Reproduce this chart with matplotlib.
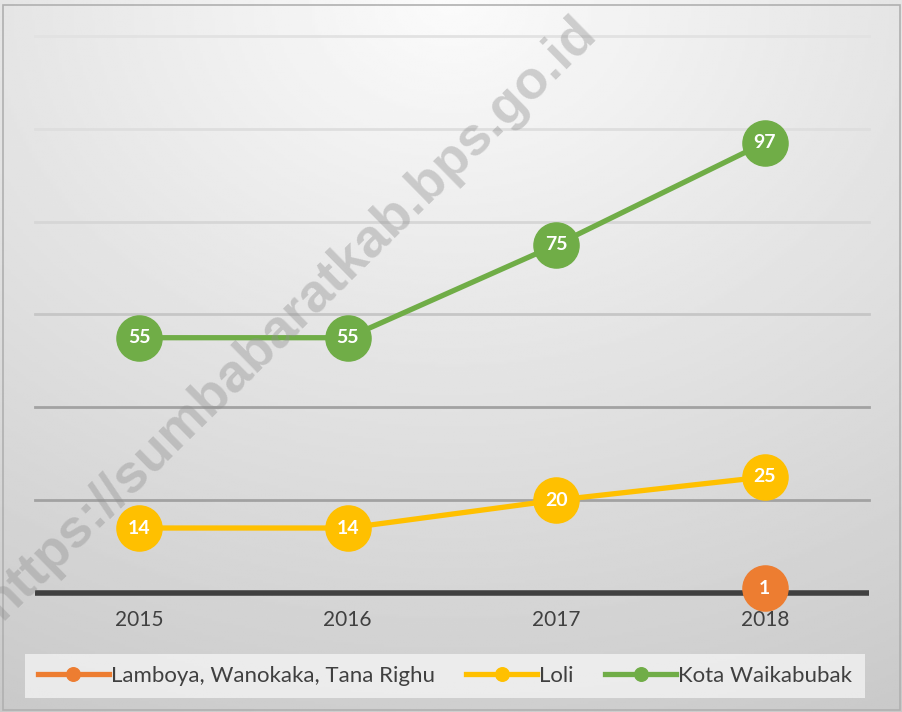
import numpy as np
import matplotlib.pyplot as plt
from matplotlib.patches import Rectangle

years = ['2015', '2016', '2017', '2018']
lamboya = [np.nan, np.nan, np.nan, 1]
loli = [14, 14, 20, 25]
kota = [55, 55, 75, 97]

series = [
    ('Lamboya, Wanokaka, Tana Righu', lamboya, '#ED7D31'),
    ('Loli', loli, '#FFC000'),
    ('Kota Waikabubak', kota, '#70AD47'),
]

grid_levels = [20, 40, 60, 80, 100, 120]
grid_colors = ['#a2a2a2', '#a2a2a2', '#c6c6c6', '#d6d6d6', '#dedede', '#e2e2e2']

plt.rcParams['font.family'] = ['Lato', 'DejaVu Sans']

fig = plt.figure(figsize=(9.03, 7.12), dpi=100)

# background gradient (light at top centre, grey at bottom)
bg = fig.add_axes([0, 0, 1, 1], zorder=-10)
xx, yy = np.meshgrid(np.linspace(0, 1, 300), np.linspace(0, 1, 300))
r = np.sqrt(((xx - 0.5) * 1.0) ** 2 + yy ** 2)
val = (251 - 50 * r / r.max()) / 255
bg.imshow(val, cmap='gray', vmin=0, vmax=1, extent=[0, 1, 0, 1],
          aspect='auto', origin='upper')
bg.axis('off')
fig.patches.append(Rectangle((0.003, 0.003), 0.994, 0.99, transform=fig.transFigure,
                             fill=False, edgecolor='#b0b0b0', lw=1.2))

ax = fig.add_axes([35 / 903, 1 - 593 / 712, (869 - 35) / 903, (593 - 36) / 712])
ax.patch.set_alpha(0)
x = np.arange(len(years))

for lvl, c in zip(grid_levels, grid_colors):
    ax.axhline(lvl, color=c, lw=2, zorder=1, clip_on=False)

for name, vals, color in series:
    ax.plot(x, vals, color=color, lw=3.8, marker='o', markersize=32.5,
            label=name, zorder=3, clip_on=False)
    for xi, v in zip(x, vals):
        if not np.isnan(v):
            ax.text(xi, v, f'{v:g}', ha='center', va='center', color='white',
                    fontsize=14, fontweight='bold', zorder=4)

ax.set_xlim(-0.5, 3.5)
ax.set_ylim(0, 120)
ax.set_yticks([])
ax.set_xticks(x)
ax.set_xticklabels(years, fontsize=15, color='#404040')
ax.tick_params(axis='x', length=0, pad=12)
for s in ['top', 'right', 'left']:
    ax.spines[s].set_visible(False)
ax.spines['bottom'].set_color('#404040')
ax.spines['bottom'].set_linewidth(4)
ax.spines['bottom'].set_capstyle('butt')
ax.spines['bottom'].set_zorder(2)

leg = ax.legend(loc='center', bbox_to_anchor=(445 / 903, 1 - 676 / 712),
                bbox_transform=fig.transFigure, ncol=3, frameon=True,
                fancybox=False, fontsize=16, handlelength=3.2,
                markerscale=0.3, columnspacing=1.4, handletextpad=0.1,
                borderpad=0.55)
leg.get_frame().set_facecolor('white')
leg.get_frame().set_alpha(0.6)
leg.get_frame().set_edgecolor('none')
for t in leg.get_texts():
    t.set_color('#404040')

# watermark, partly running off the left edge as in the source
fig.text(0.321, 0.553, 'https://sumbabaratkab.bps.go.id', rotation=44.5,
         ha='center', va='center', fontsize=39, fontweight='bold',
         color='#909090', alpha=0.4, family='Liberation Sans', zorder=10)

fig.savefig('out.png', dpi=100)
